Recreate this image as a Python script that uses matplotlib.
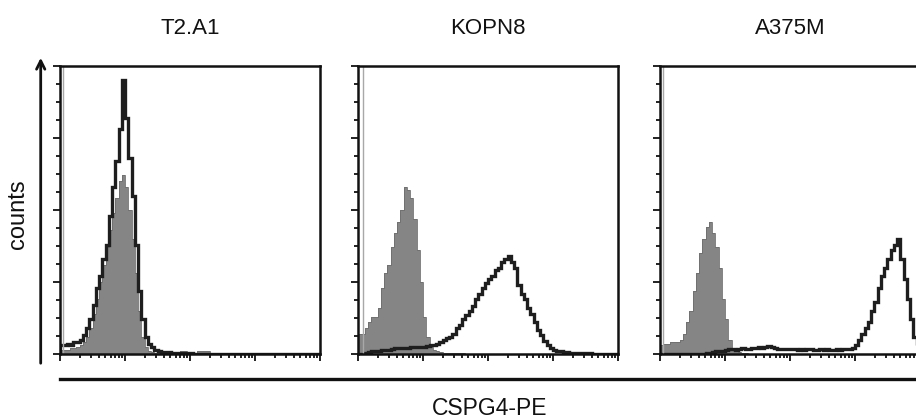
import matplotlib.pyplot as plt
import numpy as np

plt.rcParams['font.family'] = ['Liberation Sans', 'DejaVu Sans']

# Data: counts in % of y-axis, 80 bins over 4 log decades
titles = ['T2.A1', 'KOPN8', 'A375M']
n_decades = 4
n_bins = 80

t2a1_control = [1.5, 1.5, 1.5, 2, 2, 2.5, 3, 4, 6, 9, 14, 19, 25, 31, 37, 43, 49, 54, 60, 62,
                58, 50, 40, 28, 15, 6, 2.5, 1.2, 0.8, 0.5, 0.4, 0.3, 0.3, 0.3, 0.2, 0.2, 0.2, 1.2, 1.2, 0.2,
                0.2, 0.2, 1.2, 1.2, 1.0, 1.0, 0.2, 0, 0, 0, 0, 0, 0, 0, 0, 0, 0, 0, 0, 0,
                0, 0, 0, 0, 0, 0, 0, 0, 0, 0, 0, 0, 0, 0, 0, 0, 0, 0, 0, 0]
t2a1_stained = [3, 3, 3.5, 3, 4, 4, 5, 6.5, 9, 12, 17, 23, 27, 33, 38, 48, 58, 67, 78, 95,
                82, 68, 55, 38, 22, 12, 6, 3.5, 2.5, 1.5, 1, 0.8, 0.8, 0.6, 0.5, 0.5, 0.3, 0.3, 0.2, 0.2,
                0.2, 0.1, 0.1, 0.1, 0, 0, 0, 0, 0, 0, 0, 0, 0, 0, 0, 0, 0, 0, 0, 0,
                0, 0, 0, 0, 0, 0, 0, 0, 0, 0, 0, 0, 0, 0, 0, 0, 0, 0, 0, 0]

kopn8_control = [7, 7, 9, 11, 13, 13, 16, 23, 28, 31, 37, 42, 46, 50, 58, 57, 54, 47, 36, 25,
                 13, 6, 2.5, 1.5, 1, 0.8, 0.5, 0.4, 0.3, 0.3, 0.2, 0.2, 0.2, 0.1, 0.1, 0, 0, 0, 0, 0,
                 0, 0, 0, 0, 0, 0, 0, 0, 0, 0, 0, 0, 0, 0, 0, 0, 0, 0, 0, 0,
                 0, 0, 0, 0, 0, 0, 0, 0, 0, 0, 0, 0, 0, 0, 0, 0, 0, 0, 0, 0]
kopn8_stained = [0, 0, 0.5, 0.8, 1, 1, 1.2, 1.3, 1.5, 1.5, 1.8, 2, 2, 2, 2.2, 2.2, 2.5, 2.5, 2.5, 2.5,
                 2.5, 2.8, 3, 3.2, 3.5, 4, 5, 5.5, 6, 7, 9, 10, 12, 13.5, 15, 16.5, 19, 21, 23, 24.5,
                 26, 27, 29, 30, 32, 33, 34, 32, 30, 24, 21, 19, 16, 14, 11, 8.5, 6.5, 4.5, 3.2, 2.2,
                 1.5, 1.2, 1, 0.8, 0.6, 0.5, 0.4, 0.3, 0.3, 0.2, 0.2, 0.2, 0.1, 0.1, 0.1, 0, 0, 0, 0, 0]

a375m_control = [3, 3.5, 3.5, 4, 4, 4, 5, 7, 11, 15, 22, 28, 35, 40, 44, 46, 42, 37, 30, 19,
                 12, 5, 2, 1, 0.6, 0.4, 0.2, 0, 0, 0, 0, 0, 0, 0, 0, 0, 0, 0, 0, 0,
                 0, 0, 0, 0, 0, 0, 0, 0, 0, 0, 0, 0, 0, 0, 0, 0, 0, 0, 0, 0,
                 0, 0, 0, 0, 0, 0, 0, 0, 0, 0, 0, 0, 0, 0, 0, 0, 0, 0, 0, 0]
a375m_stained = [0, 0, 0, 0, 0, 0, 0, 0, 0, 0, 0, 0, 0, 0, 0.3, 0.5, 0.8, 1, 1, 1.2,
                 1.5, 1.8, 1.6, 1.5, 1.7, 2, 1.8, 1.6, 2.2, 2, 2.4, 2.2, 2.6, 2.8, 2.4, 2, 1.8, 1.9, 1.7, 1.6,
                 1.8, 1.6, 1.5, 1.7, 1.5, 1.6, 1.8, 1.5, 1.4, 1.6, 1.5, 1.7, 1.5, 1.4, 1.6, 1.5, 1.7, 1.8, 1.6, 2.2,
                 3, 5, 7, 9, 11, 15, 18, 23, 27, 30, 33, 36, 38, 40, 33, 26, 19, 12, 6, 3]

# off-scale pile-up of events in the lowest channel (decade position)
pileup_channel = [0.05, 0.07, 0.05]

controls = [t2a1_control, kopn8_control, a375m_control]
stained = [t2a1_stained, kopn8_stained, a375m_stained]

W, H = 916, 419
fig = plt.figure(figsize=(W / 100, H / 100), dpi=100)

# panel boxes in pixels: left, width
panel_left = [60, 358, 660]
panel_w = 260
panel_top, panel_bottom = 66, 354

edges = np.linspace(0, n_decades, n_bins + 1)
minor_x = [k + np.log10(m) for k in range(n_decades) for m in range(2, 10)]

for i in range(3):
    ax = fig.add_axes([panel_left[i] / W, (H - panel_bottom) / H,
                       panel_w / W, (panel_bottom - panel_top) / H])
    ax.vlines(pileup_channel[i], 0, 100, color='#a8a8a8', lw=1.0)
    ax.stairs(controls[i], edges, fill=True, color='#858585', lw=0)
    ax.stairs(controls[i], edges, color='#6e6e6e', lw=0.6)
    ax.stairs(stained[i], edges, color='#1e1e1e', lw=2.4)
    ax.set_xlim(0, n_decades)
    ax.set_ylim(0, 100)
    ax.set_xticks(range(n_decades + 1))
    ax.set_xticks(minor_x, minor=True)
    ax.set_yticks([0, 25, 50, 75, 100])
    ax.set_yticks(np.arange(0, 100, 6.25), minor=True)
    ax.tick_params(which='both', direction='out', labelbottom=False, labelleft=False,
                   width=1.3, color='#111111')
    ax.tick_params(which='major', length=5)
    ax.tick_params(which='minor', length=3)
    for s in ax.spines.values():
        s.set_linewidth(1.8)
        s.set_color('#111111')
    ax.text(0.5, (panel_bottom - 28) / (panel_bottom - panel_top), titles[i],
            transform=ax.transAxes, ha='center', va='center', fontsize=16, color='#111111')

# y arrow "counts"
ax0 = fig.axes[0]
ax0.annotate('', xy=(40.7 / W, (H - 55) / H), xytext=(40.7 / W, (H - 366) / H),
             xycoords='figure fraction', textcoords='figure fraction', annotation_clip=False,
             arrowprops=dict(arrowstyle='->,head_length=0.6,head_width=0.3', lw=2, color='#111111'))
fig.text(18 / W, (H - 214) / H, 'counts', rotation=90, ha='center', va='center',
         fontsize=17, color='#111111')

# x axis line and label
fig.add_artist(plt.Line2D([60 / W, 1.0], [(H - 379) / H] * 2, lw=2.4, color='#111111'))
fig.text(490 / W, (H - 408) / H, 'CSPG4-PE', ha='center', va='center', fontsize=16.5, color='#111111')

fig.savefig('out.png', dpi=100)
